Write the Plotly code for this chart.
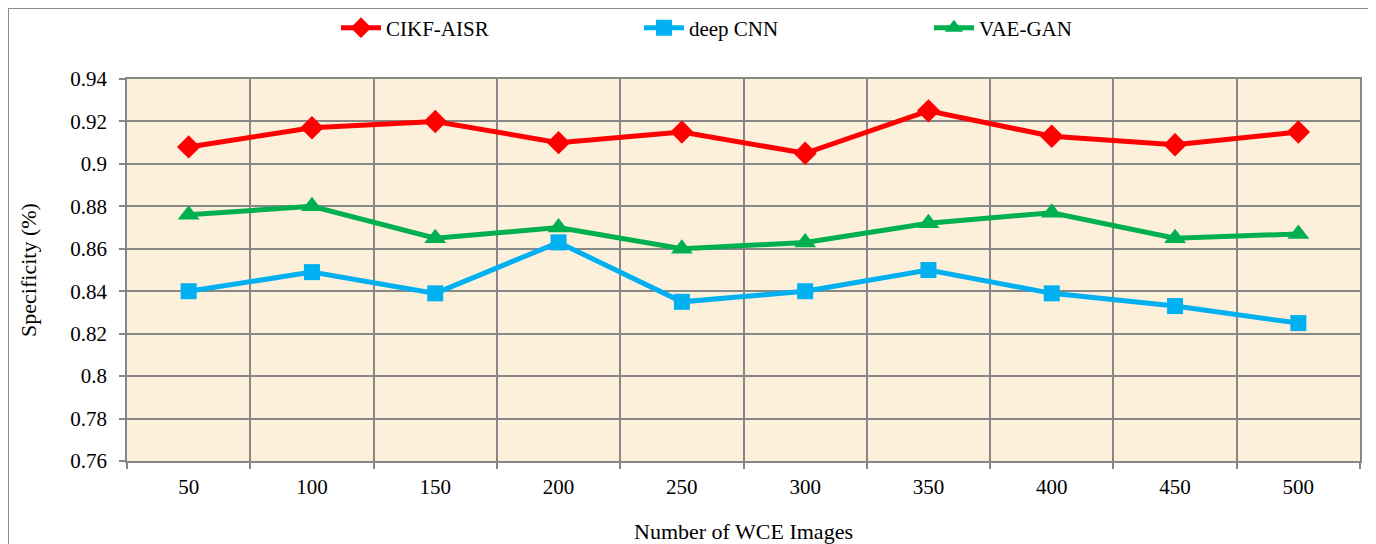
import plotly.graph_objects as go

categories = ["50", "100", "150", "200", "250", "300", "350", "400", "450", "500"]
cikf_aisr = [0.908, 0.917, 0.920, 0.910, 0.915, 0.905, 0.925, 0.913, 0.909, 0.915]
deep_cnn = [0.840, 0.849, 0.839, 0.863, 0.835, 0.840, 0.850, 0.839, 0.833, 0.825]
vae_gan = [0.876, 0.880, 0.865, 0.870, 0.860, 0.863, 0.872, 0.877, 0.865, 0.867]
y_ticks = [0.76, 0.78, 0.8, 0.82, 0.84, 0.86, 0.88, 0.9, 0.92, 0.94]
y_ticktext = ["0.76", "0.78", "0.8", "0.82", "0.84", "0.86", "0.88", "0.9", "0.92", "0.94"]

FONT = "Liberation Serif, Times New Roman, serif"
GRID = "#878787"

fig = go.Figure()
fig.add_trace(go.Scatter(x=categories, y=cikf_aisr, name="CIKF-AISR", mode="lines+markers",
                         line=dict(color="#FF0000", width=5), legend="legend",
                         marker=dict(symbol="diamond", size=18, color="#FF0000")))
fig.add_trace(go.Scatter(x=categories, y=deep_cnn, name="deep CNN", mode="lines+markers",
                         line=dict(color="#00B0F0", width=5), legend="legend2",
                         marker=dict(symbol="square", size=16, color="#00B0F0")))
fig.add_trace(go.Scatter(x=categories, y=vae_gan, name="VAE-GAN", mode="lines+markers",
                         line=dict(color="#00B050", width=5), legend="legend3",
                         marker=dict(symbol="triangle-up", size=19, color="#00B050")))

def leg(xpos):
    return dict(orientation="h", x=xpos, xanchor="left", y=1.1335, yanchor="middle",
                font=dict(family=FONT, size=21, color="#000000"), itemwidth=40,
                bgcolor="rgba(0,0,0,0)")

fig.update_layout(
    width=1376, height=544,
    margin=dict(l=119, r=24, t=71, b=91, autoexpand=False),
    paper_bgcolor="white",
    plot_bgcolor="#FCF0DA",
    font=dict(family=FONT, size=21, color="#000000"),
    showlegend=True,
    legend=leg(0.1695), legend2=leg(0.4152), legend3=leg(0.6504),
    xaxis=dict(type="category", tickson="boundaries", showgrid=True, gridcolor=GRID, gridwidth=1.5,
               showline=True, linecolor=GRID, linewidth=1.5, mirror=True, automargin=False,
               ticks="outside", ticklen=6, tickcolor=GRID, tickwidth=1.5, ticklabelstandoff=6,
               title=dict(text="Number of WCE Images", font=dict(family=FONT, size=22), standoff=26),
               tickfont=dict(family=FONT, size=21), range=[-0.5, 9.5]),
    yaxis=dict(range=[0.76, 0.94], tickvals=y_ticks, ticktext=y_ticktext,
               showgrid=True, gridcolor=GRID, gridwidth=1.5, zeroline=False,
               showline=True, linecolor=GRID, linewidth=1.5, mirror=True, automargin=False,
               ticks="outside", ticklen=6, tickcolor=GRID, tickwidth=1.5, ticklabelstandoff=8,
               title=dict(text="Specificity (%)", font=dict(family=FONT, size=22), standoff=28),
               tickfont=dict(family=FONT, size=21)),
)

bx0, bx1, by0, by1 = -0.0965, 1.0089, -0.25, 1.186
border = dict(color="#8C8C8C", width=2)
for (xa, ya, xb, yb) in [(bx0, by1, bx1, by1), (bx0, by0, bx0, by1), (bx1, by0, bx1, by1)]:
    fig.add_shape(type="line", xref="paper", yref="paper", x0=xa, y0=ya, x1=xb, y1=yb,
                  line=border, layer="above")

fig.write_html("out.html")
